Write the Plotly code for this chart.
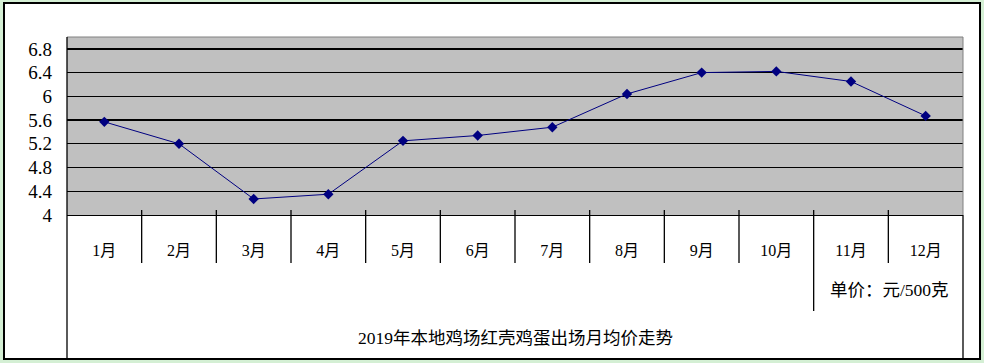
import plotly.graph_objects as go

months = ["1月", "2月", "3月", "4月", "5月", "6月", "7月", "8月", "9月", "10月", "11月", "12月"]
prices = [5.57, 5.20, 4.27, 4.35, 5.25, 5.34, 5.48, 6.04, 6.40, 6.42, 6.25, 5.67]
y_ticks = [4.0, 4.4, 4.8, 5.2, 5.6, 6.0, 6.4, 6.8]
y_tick_text = ["4", "4.4", "4.8", "5.2", "5.6", "6", "6.4", "6.8"]
title_text = "2019年本地鸡场红壳鸡蛋出场月均价走势"
unit_text = "单价：元/500克"

W, H = 984, 363
L, R, T, B = 67, 963, 37, 215  # plot area pixel bounds

def px(x):
    return (x - L) / (R - L)

def py(y):
    return (B - y) / (B - T)

FONT = "Liberation Serif, Noto Sans CJK SC, serif"

fig = go.Figure()
fig.add_trace(go.Scatter(
    x=list(range(len(months))), y=prices, mode="lines+markers",
    line=dict(color="#000080", width=1),
    marker=dict(symbol="diamond", size=8, color="#000080"),
    showlegend=False, hoverinfo="skip"))

shapes = []
# outer chart frame (white with black border)
shapes.append(dict(type="rect", xref="paper", yref="paper",
                   x0=px(4), x1=px(980), y0=py(359), y1=py(3),
                   line=dict(color="black", width=2), fillcolor="white", layer="below"))
# gray plot area background
shapes.append(dict(type="rect", xref="paper", yref="paper", x0=0, x1=1, y0=0, y1=1,
                   line=dict(width=0), fillcolor="#c0c0c0", layer="below"))
# plot area border (gray top/right)
shapes.append(dict(type="line", xref="paper", yref="paper", x0=0, x1=1, y0=1, y1=1,
                   line=dict(color="#808080", width=1)))
shapes.append(dict(type="line", xref="paper", yref="paper", x0=1, x1=1, y0=0, y1=1,
                   line=dict(color="#808080", width=1)))
# left long line
shapes.append(dict(type="line", xref="paper", yref="paper", x0=0, x1=0, y0=py(358), y1=1,
                   line=dict(color="black", width=1.3)))
# right long line below plot
shapes.append(dict(type="line", xref="paper", yref="paper", x0=1, x1=1, y0=py(358), y1=0,
                   line=dict(color="black", width=1.3)))
# category boundary ticks
for i in range(1, len(months)):
    bottom = 311 if i == 10 else 263
    shapes.append(dict(type="line", xref="x", yref="paper", x0=i - 0.5, x1=i - 0.5,
                       y0=py(bottom), y1=py(210), line=dict(color="black", width=1.3)))

fig.update_layout(
    width=W, height=H,
    margin=dict(l=L, r=W - R, t=T, b=H - B, pad=0),
    paper_bgcolor="#d4efd4",
    plot_bgcolor="#c0c0c0",
    font=dict(family=FONT, color="black"),
    shapes=shapes,
    xaxis=dict(
        type="linear", range=[-0.5, 11.5],
        tickmode="array", tickvals=list(range(len(months))), ticktext=months,
        showgrid=False, zeroline=False, ticks="",
        showline=True, linecolor="black", linewidth=1.3,
        tickfont=dict(size=16, family=FONT), ticklabelstandoff=20,
        fixedrange=True),
    yaxis=dict(
        range=[4, 7.0], tickmode="array", tickvals=y_ticks, ticktext=y_tick_text,
        showgrid=True, gridcolor="black", gridwidth=1.3, zeroline=False,
        showline=False, ticks="",
        tickfont=dict(size=19, family=FONT), ticklabelstandoff=14,
        fixedrange=True),
    annotations=[
        dict(text=unit_text, xref="paper", yref="paper", x=px(889), y=py(290),
             xanchor="center", yanchor="middle", showarrow=False,
             font=dict(size=17.5, family=FONT, color="black")),
        dict(text=title_text, xref="paper", yref="paper", x=px(515), y=py(338),
             xanchor="center", yanchor="middle", showarrow=False,
             font=dict(size=17.5, family=FONT, color="black")),
    ],
)

fig.write_html("out.html", config={"staticPlot": True},
               post_script="document.body.style.margin='0';document.body.style.overflow='hidden';")
